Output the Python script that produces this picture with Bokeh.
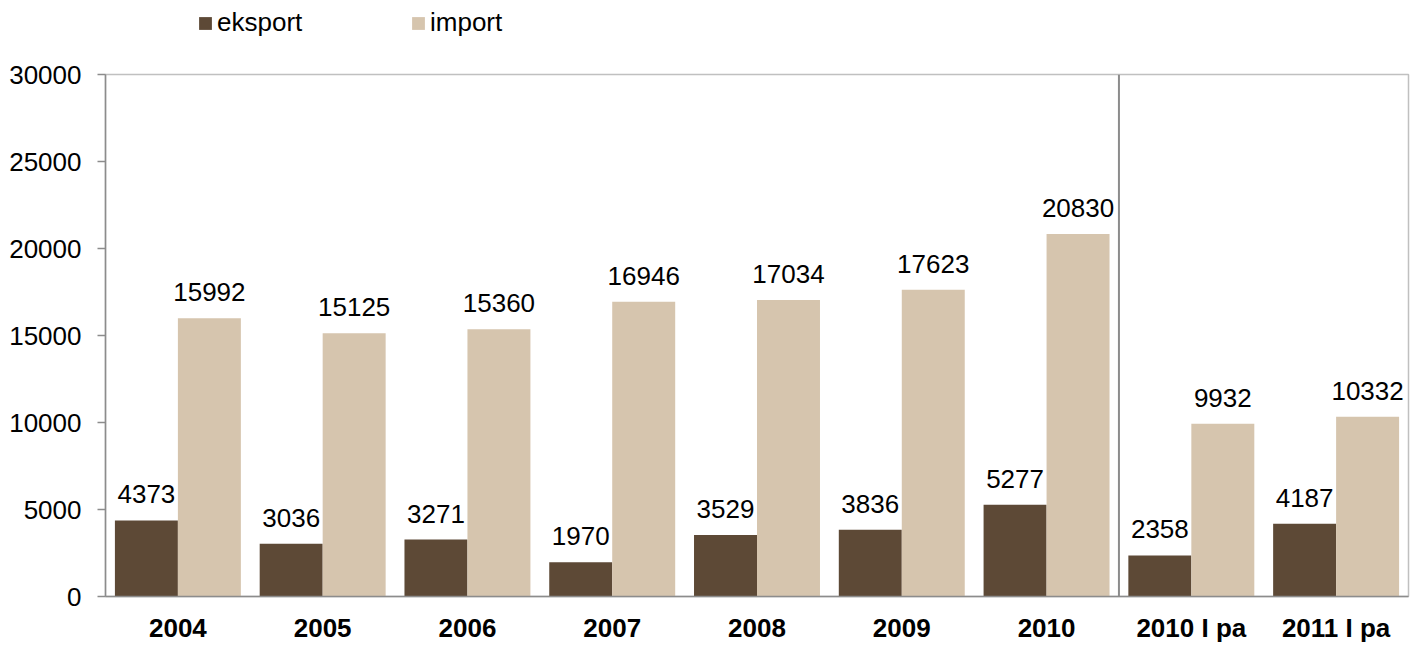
from bokeh.plotting import figure
from bokeh.layouts import column
from bokeh.models import ColumnDataSource, FactorRange, Range1d, LabelSet, Span, Legend, LegendItem
from bokeh.transform import dodge
from bokeh.embed import file_html
from bokeh.resources import INLINE
from bokeh.core.properties import value

categories = ["2004", "2005", "2006", "2007", "2008", "2009", "2010", "2010 I pa", "2011 I pa"]
eksport = [4373, 3036, 3271, 1970, 3529, 3836, 5277, 2358, 4187]
import_ = [15992, 15125, 15360, 16946, 17034, 17623, 20830, 9932, 10332]
y_ticks = [0, 5000, 10000, 15000, 20000, 25000, 30000]

C_EKS = "#5d4936"
C_IMP = "#d6c5ae"
FONT = "Liberation Sans"
FS = "26px"
W = 1416

src = ColumnDataSource(dict(
    cat=categories,
    eks=eksport,
    imp=import_,
    eks_t=[str(v) for v in eksport],
    imp_t=[str(v) for v in import_],
))

bw = 0.435

# ---- legend strip (separate small figure so the legend is not clipped) ----
lg = figure(
    x_range=FactorRange(*categories, range_padding=0),
    y_range=Range1d(0, 30000),
    width=W, height=50,
    output_backend="svg", toolbar_location=None,
    x_axis_location=None, y_axis_location=None,
    min_border_left=0, min_border_right=0, min_border_top=0, min_border_bottom=0,
)
lg.outline_line_color = None
lg.xgrid.grid_line_color = None
lg.ygrid.grid_line_color = None
l1 = lg.vbar(x="cat", top="eks", width=bw, source=src, fill_color=C_EKS, line_color=None, visible=False)
l2 = lg.vbar(x="cat", top="imp", width=bw, source=src, fill_color=C_IMP, line_color=None, visible=False)
legend = Legend(
    items=[LegendItem(label="eksport", renderers=[l1]), LegendItem(label="import", renderers=[l2])],
    orientation="horizontal", location=(92, 12),
    glyph_width=16, glyph_height=16, label_standoff=4, label_width=193, spacing=0,
    padding=0, margin=0, border_line_color=None, background_fill_alpha=0,
    inactive_fill_alpha=0,
    label_text_font=FONT, label_text_font_size=FS, label_text_color="#000000",
)
lg.add_layout(legend, "center")

# ---- main chart ----
p = figure(
    x_range=FactorRange(*categories, range_padding=0),
    y_range=Range1d(0, 30000),
    width=W, height=595,
    output_backend="svg", toolbar_location=None,
    min_border_left=105, min_border_right=8, min_border_top=24, min_border_bottom=48,
)

p.vbar(x=dodge("cat", -bw / 2, range=p.x_range), top="eks", width=bw, source=src,
       fill_color=C_EKS, line_color=None)
p.vbar(x=dodge("cat", bw / 2, range=p.x_range), top="imp", width=bw, source=src,
       fill_color=C_IMP, line_color=None)

for ycol, tcol, off in [("eks", "eks_t", -bw / 2), ("imp", "imp_t", bw / 2)]:
    p.add_layout(LabelSet(x=dodge("cat", off, range=p.x_range), y=ycol, text=tcol, source=src,
                          text_align="center", text_baseline="alphabetic", y_offset=17,
                          text_font=value(FONT), text_font_size=FS, text_color="#000000"))

p.add_layout(Span(location=7, dimension="height", line_color="#8c8c8c", line_width=2))

p.xgrid.grid_line_color = None
p.ygrid.grid_line_color = None
p.outline_line_color = "#c0c0c0"
p.outline_line_width = 1.5

p.yaxis.ticker = y_ticks
p.yaxis.axis_line_color = "#8c8c8c"
p.yaxis.axis_line_width = 1.5
p.yaxis.major_tick_line_color = "#8c8c8c"
p.yaxis.major_tick_line_width = 1.5
p.yaxis.major_tick_out = 8
p.yaxis.major_tick_in = 0
p.yaxis.minor_tick_line_color = None
p.yaxis.major_label_standoff = 16
p.yaxis.major_label_text_font = FONT
p.yaxis.major_label_text_font_size = FS
p.yaxis.major_label_text_color = "#000000"

p.xaxis.axis_line_color = "#8c8c8c"
p.xaxis.axis_line_width = 1.5
p.xaxis.major_tick_line_color = None
p.xaxis.minor_tick_line_color = None
p.xaxis.major_tick_out = 0
p.xaxis.major_tick_in = 0
p.xaxis.major_label_standoff = 16
p.xaxis.major_label_text_font = FONT
p.xaxis.major_label_text_font_size = FS
p.xaxis.major_label_text_font_style = "bold"
p.xaxis.major_label_text_color = "#000000"

layout = column(lg, p, spacing=0)
open("out.html", "w").write(file_html(layout, INLINE))
